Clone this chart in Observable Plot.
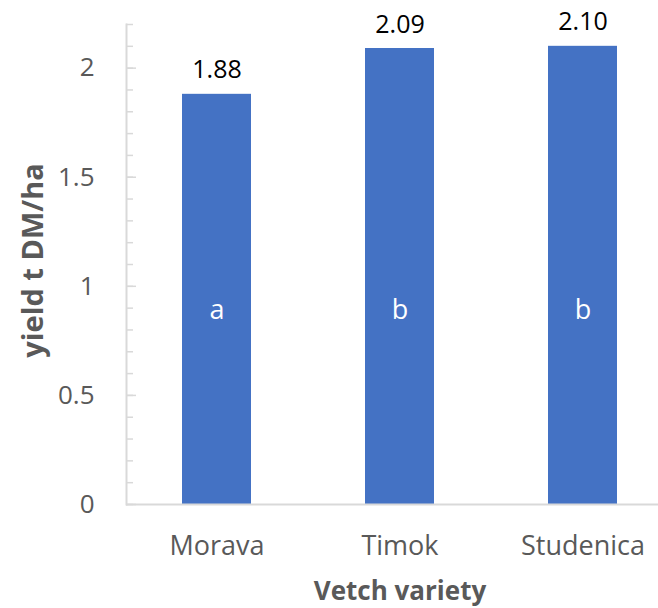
<!DOCTYPE html>
<html><head><meta charset="utf-8">
<script src="https://cdn.jsdelivr.net/npm/d3@7"></script>
<script src="https://cdn.jsdelivr.net/npm/@observablehq/plot@0.6"></script>
<style>body{margin:0;background:#fff;}</style>
</head><body><div id="chart"></div>
<script>
const varieties = ["Morava", "Timok", "Studenica"];
const yields = [1.88, 2.09, 2.10];
const yieldLabels = ["1.88", "2.09", "2.10"];
const groupLetters = ["a", "b", "b"];
const majorTicks = [0, 0.5, 1, 1.5, 2];
const majorTickLabels = ["0", "0.5", "1", "1.5", "2"];
const minorTicks = [0, 0.1, 0.2, 0.3, 0.4, 0.5, 0.6, 0.7, 0.8, 0.9, 1, 1.1, 1.2, 1.3, 1.4, 1.5, 1.6, 1.7, 1.8, 1.9, 2, 2.1, 2.2];
const xTitle = "Vetch variety";
const yTitle = "yield t DM/ha";
const letterLevel = 0.89;

const data = varieties.map((v, i) => ({variety: v, yield: yields[i], label: yieldLabels[i], letter: groupLetters[i]}));

const grey = "#595959";
const axisGrey = "#d9d9d9";

const chart = Plot.plot({
  width: 658, height: 608,
  marginLeft: 126, marginRight: 0, marginTop: 24, marginBottom: 104,
  style: {fontFamily: "'Open Sans', sans-serif", background: "#fff"},
  x: {domain: varieties, range: [125, 674], paddingInner: 0.623, paddingOuter: 0.3115, axis: null},
  y: {domain: [0, 2.2], axis: null},
  marks: [
    Plot.barY(data, {x: "variety", y: "yield", fill: "#4472c4"}),
    Plot.ruleY([0], {stroke: axisGrey, strokeWidth: 2}),
    Plot.frame({anchor: "left", stroke: axisGrey, strokeWidth: 2}),
    Plot.axisY(minorTicks, {tickSize: -7, tickFormat: () => "", stroke: axisGrey, strokeWidth: 1.5, label: null}),
    Plot.axisY(majorTicks, {tickSize: -10, tickFormat: () => "", stroke: axisGrey, strokeWidth: 1.5, label: null}),
    Plot.axisY(majorTicks, {tickSize: 0, tickPadding: 32, fontSize: 26, fill: grey, label: null,
      tickFormat: (d) => majorTickLabels[majorTicks.indexOf(d)]}),
    Plot.axisX(varieties, {tickSize: 0, tickPadding: 31, fontSize: 27, fill: grey, label: null}),
    Plot.text(data, {x: "variety", y: "yield", text: "label", lineAnchor: "bottom", dy: -16, fontSize: 25, fill: "#000"}),
    Plot.text(data, {x: "variety", y: () => letterLevel, text: "letter", fill: "white", fontSize: 27}),
    Plot.text([xTitle], {x: () => varieties[1], frameAnchor: "bottom", lineAnchor: "bottom", dy: 95, fontSize: 26, fontWeight: "bold", fill: grey}),
    Plot.text([yTitle], {frameAnchor: "left", textAnchor: "middle", rotate: -90, dx: -93, dy: -4, fontSize: 29, fontWeight: "bold", fill: grey})
  ]
});
document.getElementById("chart").appendChild(chart);
</script>
</body></html>
